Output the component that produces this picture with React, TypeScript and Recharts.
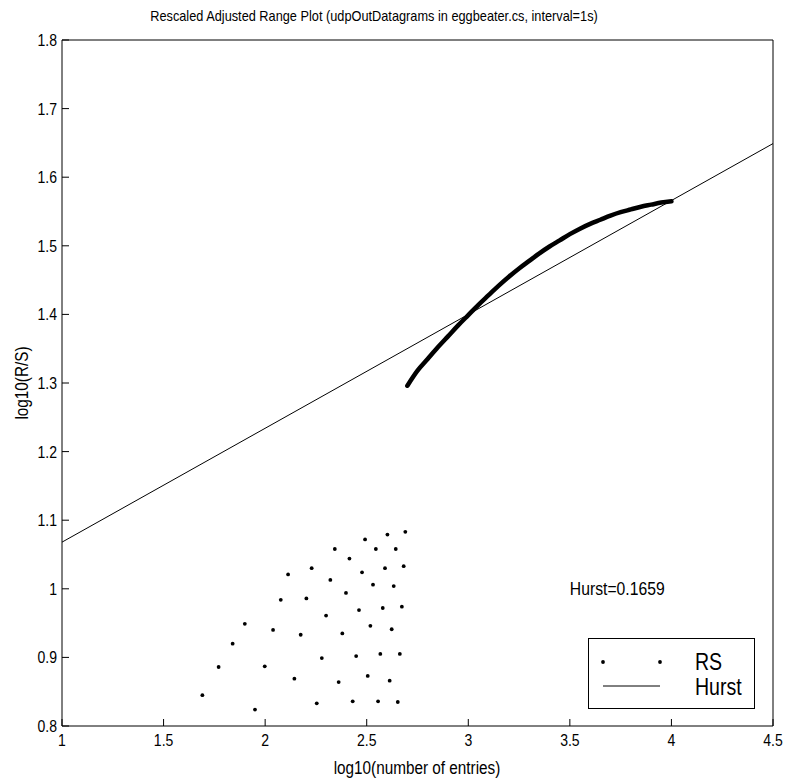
import {
  ComposedChart,
  XAxis,
  YAxis,
  Scatter,
  Line,
  Legend,
  ReferenceDot,
} from 'recharts'

// axis ticks
const xTicks = [1, 1.5, 2, 2.5, 3, 3.5, 4, 4.5]
const yTicks = [0.8, 0.9, 1, 1.1, 1.2, 1.3, 1.4, 1.5, 1.6, 1.7, 1.8]

// RS points for the small block sizes
const rsDotX = [
  1.691, 1.771, 1.84, 1.9, 1.95, 1.998, 2.039, 2.077, 2.113, 2.144, 2.175, 2.203,
  2.229, 2.254, 2.279, 2.3, 2.321, 2.343, 2.362, 2.38, 2.398, 2.415, 2.431, 2.448,
  2.462, 2.477, 2.492, 2.505, 2.518, 2.531, 2.545, 2.556, 2.567, 2.579, 2.59, 2.602,
  2.613, 2.623, 2.633, 2.643, 2.653, 2.663, 2.673, 2.682, 2.69,
]
const rsDotY = [
  0.845, 0.886, 0.92, 0.949, 0.824, 0.887, 0.94, 0.984, 1.021, 0.869, 0.933, 0.986,
  1.03, 0.833, 0.899, 0.961, 1.013, 1.058, 0.864, 0.935, 0.994, 1.044, 0.836, 0.902,
  0.969, 1.024, 1.072, 0.873, 0.946, 1.006, 1.058, 0.836, 0.905, 0.972, 1.03, 1.079,
  0.866, 0.941, 1.004, 1.058, 0.835, 0.905, 0.974, 1.033, 1.083,
]

// the dense RS run for the larger block sizes
const rsRunX = [
  2.7, 2.75, 2.8, 2.85, 2.9, 2.95, 3.0, 3.05, 3.1, 3.15, 3.2, 3.25, 3.3, 3.35,
  3.4, 3.45, 3.5, 3.55, 3.6, 3.65, 3.7, 3.75, 3.8, 3.85, 3.9, 3.95, 4.0,
]
const rsRunY = [
  1.296, 1.318, 1.335, 1.352, 1.368, 1.384, 1.399, 1.414, 1.428, 1.442, 1.455,
  1.467, 1.478, 1.489, 1.499, 1.508, 1.517, 1.525, 1.532, 1.538, 1.544, 1.549,
  1.553, 1.557, 1.56, 1.563, 1.565,
]

// fitted Hurst line
const hurstX = [1, 4.5]
const hurstY = [1.068, 1.649]

const rsDots = rsDotX.map((x, i) => ({ x, y: rsDotY[i] }))
const rsRun = rsRunX.map((x, i) => ({ x, y: rsRunY[i] }))
const hurst = hurstX.map((x, i) => ({ x, y: hurstY[i] }))

const FONT = '"Liberation Sans", Arial, sans-serif'
// the original uses a condensed Helvetica, so squeeze text horizontally
const SQ = 0.85

function Dot(props: { cx?: number; cy?: number }) {
  if (props.cx == null || props.cy == null) return null
  return <circle cx={props.cx} cy={props.cy} r={1.9} fill="#000" />
}

function NarrowTick(props: any) {
  const { x, y, payload, textAnchor, dy } = props
  return (
    <g transform={`translate(${x},${y})`}>
      <text
        transform={`scale(${SQ},1)`}
        textAnchor={textAnchor}
        dy={dy}
        fontSize={16.5}
        fontFamily={FONT}
        fill="#000"
      >
        {String(payload.value)}
      </text>
    </g>
  )
}

function HurstLabel(props: any) {
  const { viewBox } = props
  if (!viewBox) return null
  return (
    <g transform={`translate(${viewBox.x},${viewBox.y})`}>
      <text transform={`scale(${SQ},1)`} dy="0.36em" fontSize={18.5} fontFamily={FONT} fill="#000">
        Hurst=0.1659
      </text>
    </g>
  )
}

function LegendBox() {
  return (
    <svg width={168} height={72} style={{ display: 'block' }}>
      <rect x={0.5} y={0.5} width={166} height={70} fill="#fff" stroke="#000" />
      <circle cx={15} cy={24} r={1.9} fill="#000" />
      <circle cx={72} cy={24} r={1.9} fill="#000" />
      <line x1={15} x2={72} y1={48} y2={48} stroke="#000" />
      <g transform="translate(107,24)">
        <text transform={`scale(${SQ},1)`} dy="0.36em" fontSize={23} fontFamily={FONT} fill="#000">
          RS
        </text>
      </g>
      <g transform="translate(107,49)">
        <text transform={`scale(${SQ},1)`} dy="0.36em" fontSize={23} fontFamily={FONT} fill="#000">
          Hurst
        </text>
      </g>
    </svg>
  )
}

const textBox = (left: number, top: number, size: number, rotate = false) => ({
  position: 'absolute' as const,
  left,
  top,
  transform: `translate(-50%, -50%)${rotate ? ' rotate(-90deg)' : ''} scale(${SQ},1)`,
  fontSize: size,
  whiteSpace: 'nowrap' as const,
  lineHeight: 1,
})

export default function App() {
  return (
    <div style={{ position: 'absolute', left: 0, top: 0, width: 788, height: 780, fontFamily: FONT }}>
      <div style={textBox(374, 15, 15)}>
        Rescaled Adjusted Range Plot (udpOutDatagrams in eggbeater.cs, interval=1s)
      </div>
      <div style={textBox(417, 768, 18)}>log10(number of entries)</div>
      <div style={textBox(22, 383, 18, true)}>log10(R/S)</div>
      <ComposedChart width={788} height={780} margin={{ top: 0, right: 0, bottom: 0, left: 0 }}>
        <XAxis
          dataKey="x"
          type="number"
          domain={[1, 4.5]}
          ticks={xTicks}
          allowDataOverflow
          height={54}
          tick={<NarrowTick dy="0.71em" />}
          tickSize={-7}
          tickMargin={15}
          axisLine={{ stroke: '#000' }}
          tickLine={{ stroke: '#000' }}
          interval={0}
        />
        <XAxis
          xAxisId="top"
          orientation="top"
          type="number"
          domain={[1, 4.5]}
          ticks={xTicks}
          allowDataOverflow
          height={40}
          tick={false}
          tickSize={-7}
          axisLine={{ stroke: '#000' }}
          tickLine={{ stroke: '#000' }}
          interval={0}
        />
        <YAxis
          type="number"
          domain={[0.8, 1.8]}
          ticks={yTicks}
          allowDataOverflow
          width={62}
          tick={<NarrowTick dy="0.36em" />}
          tickSize={-7}
          tickMargin={12}
          axisLine={{ stroke: '#000' }}
          tickLine={{ stroke: '#000' }}
          interval={0}
        />
        <YAxis
          yAxisId="right"
          orientation="right"
          type="number"
          domain={[0.8, 1.8]}
          ticks={yTicks}
          allowDataOverflow
          width={15}
          tick={false}
          tickSize={-7}
          axisLine={{ stroke: '#000' }}
          tickLine={{ stroke: '#000' }}
          interval={0}
        />
        <Line
          data={hurst}
          dataKey="y"
          type="linear"
          stroke="#000"
          strokeWidth={1}
          dot={false}
          activeDot={false}
          name="Hurst"
          isAnimationActive={false}
        />
        <Line
          data={rsRun}
          dataKey="y"
          type="monotone"
          stroke="#000"
          strokeWidth={4.5}
          strokeLinecap="round"
          dot={false}
          activeDot={false}
          legendType="none"
          isAnimationActive={false}
        />
        <Scatter data={rsDots} dataKey="y" name="RS" shape={<Dot />} isAnimationActive={false} />
        <ReferenceDot x={3.5} y={1.0} r={0} stroke="none" label={<HurstLabel />} />
        <Legend
          layout="vertical"
          align="center"
          verticalAlign="middle"
          content={() => <LegendBox />}
          wrapperStyle={{ left: 588, top: 638, width: 168, height: 72 }}
        />
      </ComposedChart>
    </div>
  )
}
